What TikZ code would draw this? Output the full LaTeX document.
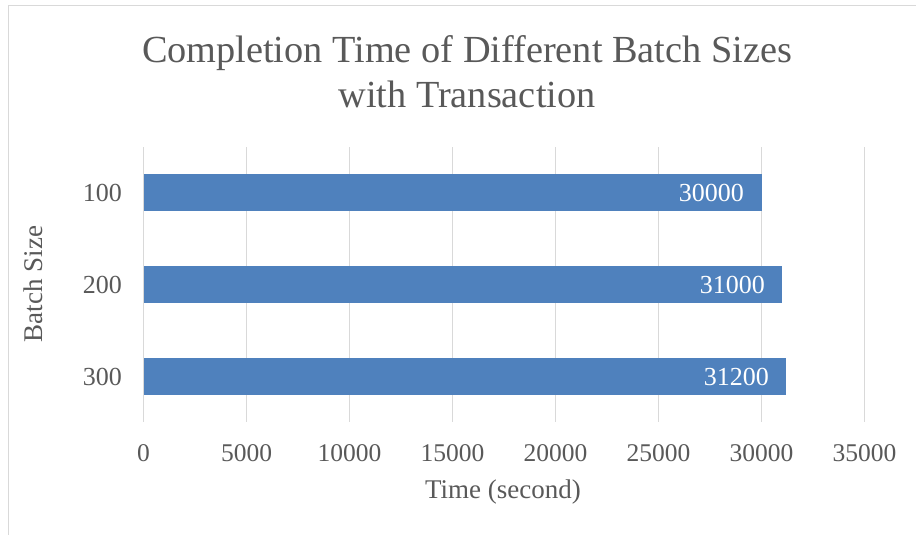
\documentclass[tikz,border=0pt]{standalone}
\usepackage{fontspec}
\setmainfont{Liberation Serif}
\definecolor{txt}{HTML}{595959}
\definecolor{grid}{HTML}{D9D9D9}
\definecolor{bar}{HTML}{4F81BD}
\begin{document}
\begin{tikzpicture}[x=1pt,y=-1pt,
  gridline/.style={draw=grid,line width=1.5pt},
  barbox/.style={fill=bar,draw=none},
  ticklab/.style={text=txt,font=\fontsize{25.5}{28}\selectfont,inner sep=0pt},
  vallab/.style={text=white,font=\fontsize{26}{28}\selectfont,inner sep=0pt,anchor=east},
  catlab/.style={text=txt,font=\fontsize{26}{28}\selectfont,inner sep=0pt,anchor=east},
  titlelab/.style={text=txt,font=\fontsize{38.3}{45}\selectfont,align=center,inner sep=0pt},
  axlab/.style={text=txt,font=\fontsize{27}{30}\selectfont,inner sep=0pt}]
\useasboundingbox (0,0) rectangle (916,535);
\fill[white] (0,0) rectangle (916,535);
\draw[grid,line width=1.5pt] (8.5,535) -- (8.5,5.5) -- (916,5.5);
% gridlines
\foreach \i/\v in {0/0,1/5000,2/10000,3/15000,4/20000,5/25000,6/30000,7/35000}{
  \draw[gridline] ({143.5+\i*103},147) -- ({143.5+\i*103},422);
  \node[ticklab] (t\i) at ({143.5+\i*103},453) {\v};
}
% bars
\fill[barbox] (143.5,174) rectangle (761.5,211);
\fill[barbox] (143.5,266) rectangle (782.1,303);
\fill[barbox] (143.5,358) rectangle (786.2,395);
\node[vallab] (v1) at (744,193) {30000};
\node[vallab] (v2) at (765,285) {31000};
\node[vallab] (v3) at (769,377) {31200};
\node[catlab] (c1) at (122,193) {100};
\node[catlab] (c2) at (122,285) {200};
\node[catlab] (c3) at (122,377) {300};
\node[titlelab] (title) at (467,72) {Completion Time of Different Batch Sizes\\with Transaction};
\node[axlab] (xl) at (503,492) {Time (second)};
\node[axlab,rotate=90] (yl) at (33,284) {Batch Size};
\end{tikzpicture}
\end{document}
